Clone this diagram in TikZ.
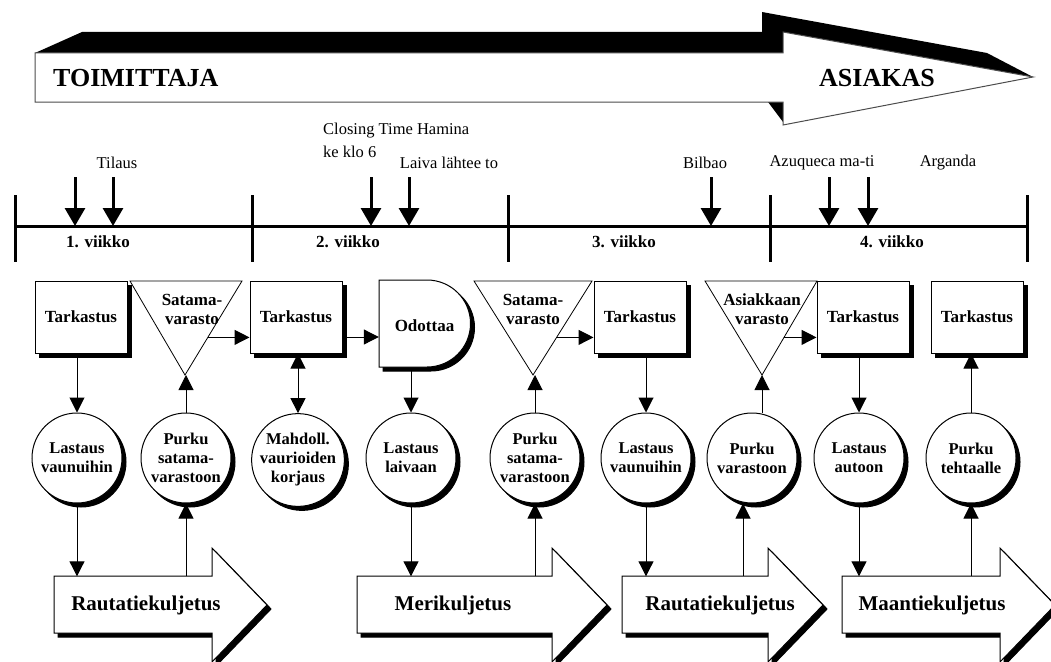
\documentclass[tikz,border=0pt]{standalone}
\usepackage{fontspec}
\setmainfont{Liberation Serif}
\usetikzlibrary{shadows,arrows.meta,calc}

\begin{document}
\begin{tikzpicture}[x=1pt,y=-1pt,
  box/.style={draw, line width=1pt, fill=white, minimum width=92pt, minimum height=72pt,
    inner sep=0pt, font=\bfseries\fontsize{17}{19}\selectfont,
    general shadow={fill=black, draw=black, line width=1pt, shadow xshift=4pt, shadow yshift=-4pt}},
  work/.style={circle, draw, line width=1pt, fill=white, minimum size=90pt, inner sep=0pt,
    align=center, font=\bfseries\fontsize{16.5}{19}\selectfont,
    general shadow={fill=black, draw=black, line width=1pt, shadow xshift=4pt, shadow yshift=-4pt}},
  store/.style={draw, line width=0.8pt, fill=white},
  storetext/.style={align=center, inner sep=0pt, font=\bfseries\fontsize{17}{19}\selectfont},
  transport/.style={draw, line width=1pt, fill=white,
    general shadow={fill=black, draw=black, line width=1pt, shadow xshift=4pt, shadow yshift=-4pt}},
  movetext/.style={inner sep=0pt, minimum height=57pt, font=\bfseries\fontsize{21}{25}\selectfont},
  flow/.style={line width=1pt, -{Triangle[length=15pt,width=15pt]}},
  twoway/.style={line width=1pt, {Triangle[length=15pt,width=15pt]}-{Triangle[length=15pt,width=15pt]}},
  event/.style={line width=3pt, -{Triangle[length=18pt,width=20pt]}},
  evtext/.style={inner sep=0pt, font=\fontsize{16.5}{19}\selectfont},
  weektext/.style={inner sep=0pt, font=\bfseries\fontsize{17}{19}\selectfont},
  bigtext/.style={inner sep=0pt, font=\bfseries\fontsize{26}{30}\selectfont}]

  \useasboundingbox (0,0) rectangle (1051,661);

  % big arrow from supplier to customer
  \fill[black] (35,53) -- (82,32) -- (762,32) -- (762,12) -- (987,53) -- (1033,77)
    -- (783,32) -- (783,53) -- cycle;
  \fill[black] (768,102) -- (783,102) -- (783,122) -- cycle;
  \draw[draw=black!70, line width=1pt, fill=white] (35,53) -- (783,53) -- (783,32)
    -- (1033,77) -- (783,125) -- (783,102) -- (35,102) -- cycle;
  \node[bigtext, anchor=west] (supplier) at (53,78) {TOIMITTAJA};
  \node[bigtext] (customer) at (877,78) {ASIAKAS};

  % timeline with weeks
  \coordinate (tl0) at (15,226);
  \coordinate (tl4) at (1027,226);
  \draw[line width=3pt] (tl0) -- (tl4);
  \foreach \x in {15,252,508,770,1027}
    \draw[line width=3pt] (\x,195) -- (\x,262);
  \node[weektext] (wk1) at (98,242) {1. viikko};
  \node[weektext] (wk2) at (348,242) {2. viikko};
  \node[weektext] (wk3) at (624,242) {3. viikko};
  \node[weektext] (wk4) at (892,242) {4. viikko};

  % events
  \foreach \x in {75,113,371,409,711,829,868} {
    \coordinate (ev\x) at (\x,177);
    \draw[event] (ev\x) -- (ev\x |- tl0);
  }
  \node[evtext] (tilaus) at (117,163) {Tilaus};
  \node[evtext, anchor=west] (closing) at (323,131) {Closing Time Hamina};
  \node[evtext, anchor=west] (keklo) at (323,152) {ke klo 6};
  \node[evtext] (laiva) at (449,163) {Laiva lähtee to};
  \node[evtext] (bilbao) at (705,163) {Bilbao};
  \node[evtext] (azuqueca) at (822,163) {Azuqueca ma-ti};
  \node[evtext] (arganda) at (948,163) {Arganda};

  % inspections
  \node[box] (chk1) at (81,317) {Tarkastus};
  \node[box] (chk2) at (296,317) {Tarkastus};
  \node[box] (chk3) at (640,317) {Tarkastus};
  \node[box] (chk4) at (863,317) {Tarkastus};
  \node[box] (chk5) at (977,317) {Tarkastus};

  % storages
  \coordinate (st1l) at (130,281); \coordinate (st1r) at (242,281); \coordinate (st1b) at (185,375);
  \coordinate (st2l) at (474,281); \coordinate (st2r) at (592,281); \coordinate (st2b) at (533,375);
  \coordinate (st3l) at (705,281); \coordinate (st3r) at (817,281); \coordinate (st3b) at (762,375);
  \draw[store] (st1l) -- (st1r) -- (st1b) -- cycle;
  \draw[store] (st2l) -- (st2r) -- (st2b) -- cycle;
  \draw[store] (st3l) -- (st3r) -- (st3b) -- cycle;
  \node[storetext] (store1) at (192,309) {Satama-\\varasto};
  \node[storetext] (store2) at (533,309) {Satama-\\varasto};
  \node[storetext] (store3) at (762,309) {Asiakkaan\\varasto};

  % waiting
  \draw[line width=1pt, fill=white,
    general shadow={fill=black, draw=black, line width=1pt, shadow xshift=4pt, shadow yshift=-4pt}]
    (379,280) -- (427,280) arc[start angle=-90, end angle=90, radius=43.5] -- (379,367) -- cycle;
  \node[storetext, minimum width=91pt, minimum height=87pt] (wait) at (424.5,326) {Odottaa};

  % work phases
  \node[work] (c1) at (77,458) {Lastaus\\vaunuihin};
  \node[work] (c2) at (186,458) {Purku\\satama-\\varastoon};
  \node[work] (c3) at (298,460) {Mahdoll.\\vaurioiden\\korjaus};
  \node[work] (c4) at (411,458) {Lastaus\\laivaan};
  \node[work] (c5) at (535,458) {Purku\\satama-\\varastoon};
  \node[work] (c6) at (646,458) {Lastaus\\vaunuihin};
  \node[work] (c7) at (752,458) {Purku\\varastoon};
  \node[work] (c8) at (859,458) {Lastaus\\autoon};
  \node[work] (c9) at (971,458) {Purku\\tehtaalle};

  % transports
  \draw[transport] (54,576) -- (212,576) -- (212,548) -- (267,605) -- (212,662) -- (212,633) -- (54,633) -- cycle;
  \draw[transport] (357,576) -- (552,576) -- (552,548) -- (607,605) -- (552,662) -- (552,633) -- (357,633) -- cycle;
  \draw[transport] (622,576) -- (768,576) -- (768,548) -- (823,605) -- (768,662) -- (768,633) -- (622,633) -- cycle;
  \draw[transport] (842,576) -- (1000,576) -- (1000,548) -- (1055,605) -- (1000,662) -- (1000,633) -- (842,633) -- cycle;
  \node[movetext] (rail1) at (146,605) {Rautatiekuljetus};
  \node[movetext] (sea) at (453,605) {Merikuljetus};
  \node[movetext] (rail2) at (720,605) {Rautatiekuljetus};
  \node[movetext] (road) at (932,605) {Maantiekuljetus};

  % horizontal connectors
  \coordinate (st1o) at ($(st1r)!0.6!(st1b)$);
  \coordinate (st2o) at ($(st2r)!0.6!(st2b)$);
  \coordinate (st3o) at ($(st3r)!0.6!(st3b)$);
  \draw[flow] (st1o) -- (st1o -| chk2.west);
  \draw[flow] ([yshift=-20pt]chk2.east) -- ([yshift=-20pt]chk2.east -| wait.west);
  \draw[flow] (st2o) -- (st2o -| chk3.west);
  \draw[flow] (st3o) -- (st3o -| chk4.west);

  % vertical connectors
  \draw[flow] (c1.north |- chk1.south) -- (c1.north);
  \draw[flow] (c1.south) -- (c1.south |- rail1.north);
  \draw[flow] (c2.north) -- (c2.north |- st1b);
  \draw[flow] (c2.south |- rail1.north) -- (c2.south);
  \draw[twoway] (c3.north |- chk2.south) -- (c3.north);
  \draw[flow] (c4.north |- wait.south) -- (c4.north);
  \draw[flow] (c4.south) -- (c4.south |- sea.north);
  \draw[flow] (c5.north) -- (c5.north |- st2b);
  \draw[flow] (c5.south |- sea.north) -- (c5.south);
  \draw[flow] (c6.north |- chk3.south) -- (c6.north);
  \draw[flow] (c6.south) -- (c6.south |- rail2.north);
  \draw[flow] (st3b |- c7.north) -- (st3b);
  \draw[flow] ([xshift=-9pt]c7.south |- rail2.north) -- ([xshift=-9pt]c7.south);
  \draw[flow] (c8.north |- chk4.south) -- (c8.north);
  \draw[flow] (c8.south) -- (c8.south |- road.north);
  \draw[flow] (c9.north) -- (c9.north |- chk5.south);
  \draw[flow] (c9.south |- road.north) -- (c9.south);
\end{tikzpicture}
\end{document}
